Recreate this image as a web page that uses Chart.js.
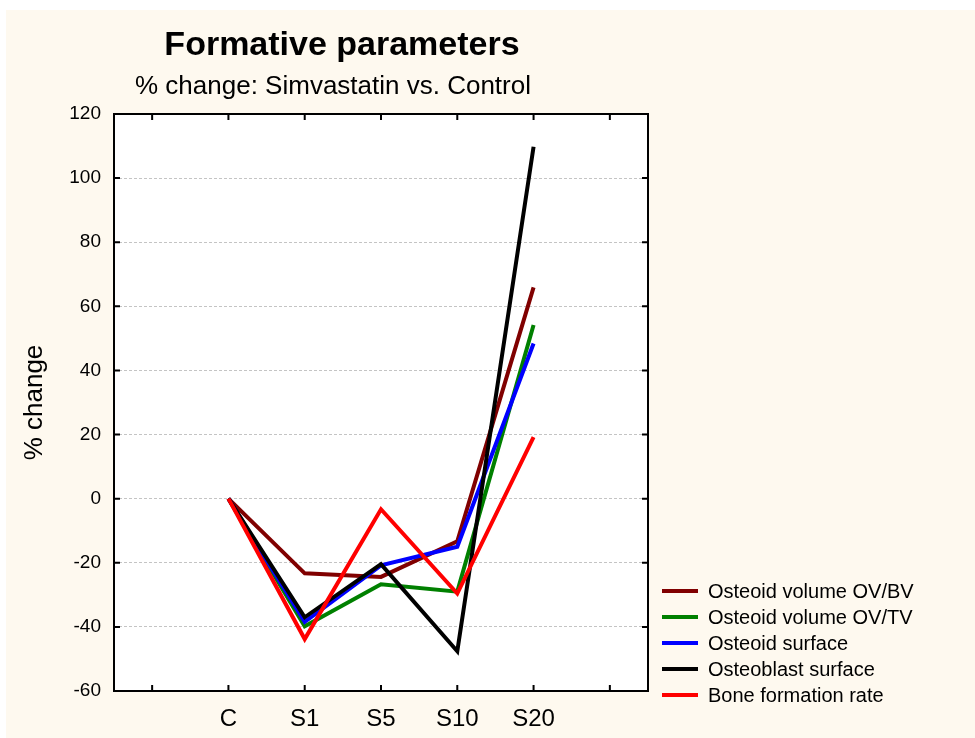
<!DOCTYPE html>
<html>
<head>
<meta charset="utf-8">
<title>Formative parameters</title>
<script src="https://cdn.jsdelivr.net/npm/chart.js@4/dist/chart.umd.min.js"></script>
<style>
    body { margin: 0; background: #ffffff; }
    canvas { display: block; }
</style>
</head>
<body>
<canvas id="formChart" width="975" height="738"></canvas>
<script>
// groups along the x axis
const categories = ['C', 'S1', 'S5', 'S10', 'S20'];

// % change vs. control, one array per parameter
const ovBv = [0, -23.3, -24.4, -13.3, 65.9];
const ovTv = [0, -39.8, -26.7, -29.0, 54.2];
const osteoidSurface = [0, -38.4, -20.8, -15.0, 48.4];
const osteoblastSurface = [0, -37.0, -20.4, -47.6, 109.8];
const boneFormationRate = [0, -43.8, -3.3, -29.6, 19.2];

const seriesNames = ['Osteoid volume OV/BV', 'Osteoid volume OV/TV', 'Osteoid surface', 'Osteoblast surface', 'Bone formation rate'];
const seriesColors = ['#800000', '#008000', '#0000ff', '#000000', '#ff0000'];
const seriesValues = [ovBv, ovTv, osteoidSurface, osteoblastSurface, boneFormationRate];

// y axis range
const yMin = -60;
const yMax = 120;
const yStep = 20;

const FONT = '"Liberation Sans", Arial, sans-serif';

const ctx = document.getElementById('formChart').getContext('2d');
if (!ctx) {
    console.error("Canvas element not found!");
}

let datasets = seriesValues.map((vals, i) => ({
    label: seriesNames[i],
    data: vals.map((v, j) => ({ x: j, y: v })),
    borderColor: seriesColors[i],
    backgroundColor: seriesColors[i],
    borderWidth: 4,
    pointRadius: 0,
    tension: 0,
    order: seriesValues.length - i   // later series drawn on top
}));

// cream panel + white plot background
const backdrop = {
    id: 'backdrop',
    beforeDraw(chart) {
        const c = chart.ctx;
        const a = chart.chartArea;
        c.save();
        c.fillStyle = '#ffffff';
        c.fillRect(0, 0, chart.width, chart.height);
        c.fillStyle = '#fef9ef';
        c.fillRect(6, 10, chart.width - 6, chart.height - 10);
        c.fillStyle = '#ffffff';
        c.fillRect(a.left, a.top, a.right - a.left, a.bottom - a.top);
        c.restore();
    }
};

// box round the plot with the tick marks pointing inward
const frame = {
    id: 'frame',
    afterDatasetsDraw(chart) {
        const c = chart.ctx;
        const a = chart.chartArea;
        const xs = chart.scales.x;
        const ys = chart.scales.y;
        const len = 6;
        c.save();
        c.strokeStyle = '#000';
        c.lineWidth = 2;
        c.beginPath();
        ys.ticks.forEach(t => {
            const py = ys.getPixelForValue(t.value);
            c.moveTo(a.left, py); c.lineTo(a.left + len, py);
            c.moveTo(a.right, py); c.lineTo(a.right - len, py);
        });
        xs.ticks.forEach(t => {
            const px = xs.getPixelForValue(t.value);
            c.moveTo(px, a.bottom); c.lineTo(px, a.bottom - len);
            c.moveTo(px, a.top); c.lineTo(px, a.top + len);
        });
        c.stroke();
        c.strokeRect(a.left, a.top, a.right - a.left, a.bottom - a.top);
        c.restore();
    }
};

// titles and the legend at the lower right
const labels = {
    id: 'labels',
    afterDraw(chart) {
        const c = chart.ctx;
        c.save();
        c.fillStyle = '#000';
        c.textAlign = 'center';
        c.textBaseline = 'alphabetic';
        c.font = 'bold 34px ' + FONT;
        c.fillText('Formative parameters', 342, 55);
        c.font = '26px ' + FONT;
        c.fillText('% change: Simvastatin vs. Control', 333, 94);

        c.textAlign = 'left';
        c.textBaseline = 'middle';
        c.font = '20px ' + FONT;
        chart.data.datasets.forEach((ds, i) => {
            const y = 591 + i * 26;
            c.strokeStyle = ds.borderColor;
            c.lineWidth = 4;
            c.beginPath();
            c.moveTo(662, y);
            c.lineTo(698, y);
            c.stroke();
            c.fillStyle = '#000';
            c.fillText(ds.label, 708, y + 1);
        });
        c.restore();
    }
};

let formChart = new Chart(ctx, {
    type: 'line',
    data: { datasets: datasets },
    options: {
        responsive: false,
        animation: false,
        layout: {
            padding: { left: 0, top: 114, right: 327, bottom: 0 }
        },
        plugins: {
            legend: { display: false },
            title: { display: false },
            tooltip: { enabled: false }
        },
        scales: {
            x: {
                type: 'linear',
                min: -1.5,
                max: categories.length + 0.5,
                grid: { display: false, drawTicks: false },
                border: { display: false },
                ticks: {
                    padding: 14,
                    color: '#000',
                    font: { family: FONT, size: 24 },
                    maxRotation: 0,
                    autoSkip: false,
                    callback: (value) => categories[value] !== undefined ? categories[value] : ''
                },
                // one tick per group, plus one spare on each side
                afterBuildTicks: (scale) => {
                    const t = [];
                    for (let i = -1; i <= categories.length; i++) t.push({ value: i });
                    scale.ticks = t;
                },
                afterFit: (scale) => { scale.height = 47; }
            },
            y: {
                min: yMin,
                max: yMax,
                grid: { color: '#c4c4c4', lineWidth: 1, drawTicks: false },
                border: { display: false, dash: [3, 2] },
                ticks: {
                    stepSize: yStep,
                    padding: 13,
                    color: '#000',
                    font: { family: FONT, size: 19 }
                },
                title: {
                    display: true,
                    text: '% change',
                    color: '#000',
                    font: { family: FONT, size: 26 },
                    padding: { top: 19, bottom: 0 }
                },
                afterFit: (scale) => { scale.width = 114; }
            }
        }
    },
    plugins: [backdrop, frame, labels]
});
</script>
</body>
</html>
